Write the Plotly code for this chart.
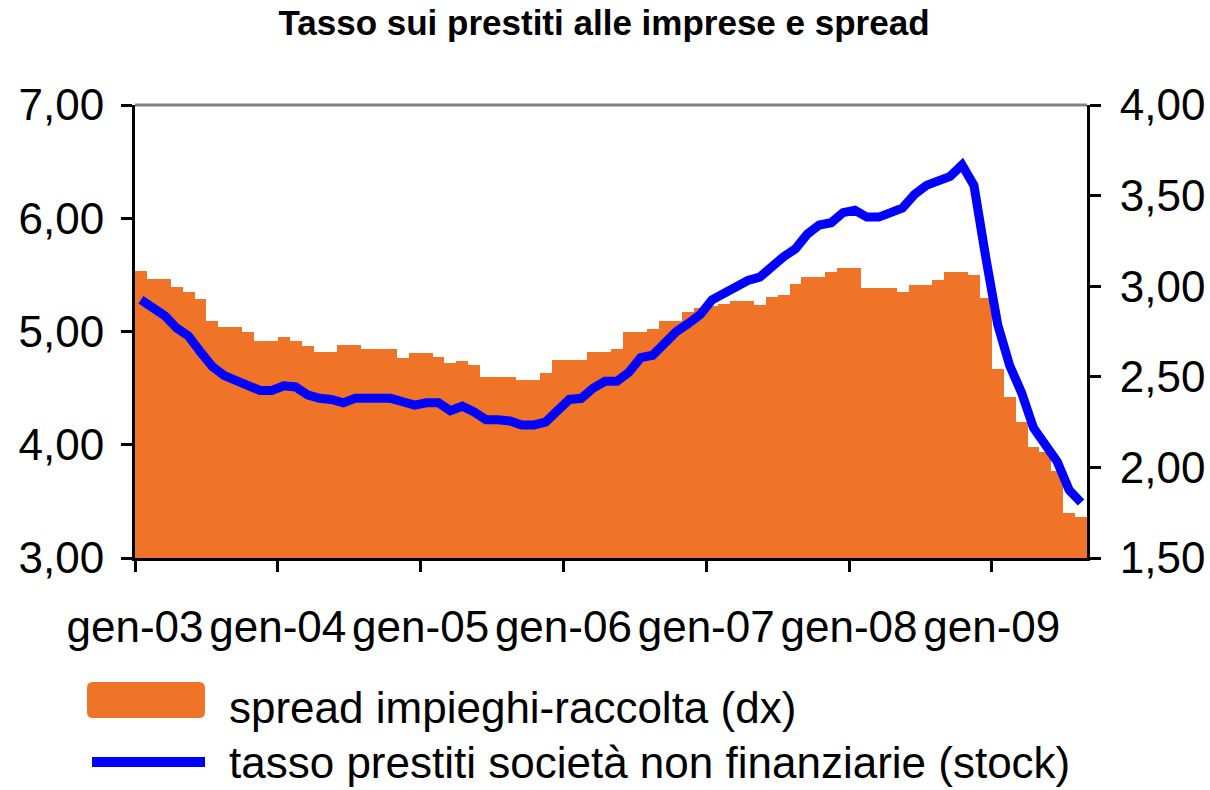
import plotly.graph_objects as go

# ---- data ----
tick_labels = ["gen-03", "gen-04", "gen-05", "gen-06", "gen-07", "gen-08", "gen-09"]
n_months = 80  # gen-03 .. ago-09

spread = [3.086, 3.04, 3.04, 2.997, 2.97, 2.93, 2.81, 2.775, 2.775, 2.75,
          2.70, 2.70, 2.72, 2.70, 2.67, 2.635, 2.635, 2.675, 2.675, 2.655,
          2.655, 2.655, 2.605, 2.63, 2.63, 2.61, 2.575, 2.585, 2.565, 2.50,
          2.50, 2.50, 2.48, 2.48, 2.52, 2.59, 2.59, 2.59, 2.635, 2.635,
          2.655, 2.745, 2.745, 2.765, 2.81, 2.81, 2.855, 2.88, 2.89, 2.90,
          2.92, 2.92, 2.895, 2.94, 2.95, 3.01, 3.05, 3.05, 3.08, 3.10,
          3.10, 2.99, 2.99, 2.99, 2.97, 3.005, 3.005, 3.035, 3.08, 3.08,
          3.06, 2.935, 2.545, 2.39, 2.25, 2.115, 2.085, 1.98, 1.75, 1.725]

tasso = [5.28, 5.21, 5.14, 5.03, 4.96, 4.82, 4.69, 4.61, 4.57, 4.52,
         4.48, 4.48, 4.52, 4.51, 4.44, 4.41, 4.40, 4.37, 4.41, 4.41,
         4.41, 4.41, 4.38, 4.35, 4.37, 4.37, 4.30, 4.34, 4.29, 4.22,
         4.22, 4.21, 4.175, 4.175, 4.20, 4.31, 4.40, 4.41, 4.50, 4.56,
         4.56, 4.64, 4.77, 4.79, 4.90, 5.00, 5.07, 5.15, 5.28, 5.34,
         5.38, 5.45, 5.48, 5.58, 5.66, 5.73, 5.86, 5.94, 5.96, 6.05,
         6.07, 6.01, 6.01, 6.05, 6.09, 6.21, 6.29, 6.33, 6.37, 6.47,
         6.29, 5.65, 5.06, 4.70, 4.46, 4.15, 4.01, 3.85, 3.60, 3.49]

left_ticks = [3, 4, 5, 6, 7]
right_ticks = [1.5, 2.0, 2.5, 3.0, 3.5, 4.0]

name_spread = "spread impieghi-raccolta (dx)"
name_tasso = "tasso prestiti società non finanziarie (stock)"
title = "Tasso sui prestiti alle imprese e spread"

ORANGE = "#F07428"
BLUE = "#0000FF"
FONT = "Liberation Sans, Arial, sans-serif"

xpos = [i + 0.5 for i in range(n_months)]
tickvals = [12 * k for k in range(len(tick_labels))]

# body margin is set to 0 below, so the figure fills the window exactly
FIG_W, FIG_H = 1210, 790
PL, PR, PT, PB = 135, 1087, 105, 558   # plot area in window pixels

fig = go.Figure()
fig.add_trace(go.Bar(x=xpos, y=spread, yaxis="y", name=name_spread,
                     width=1.0, marker=dict(color=ORANGE, line=dict(width=0))))
fig.add_trace(go.Scatter(x=xpos, y=tasso, yaxis="y2", name=name_tasso, mode="lines",
                         line=dict(color=BLUE, width=9)))

axis_common = dict(showgrid=False, zeroline=False, showline=True, linecolor="black",
                   linewidth=3, ticks="outside", ticklen=11, tickwidth=3, automargin=False,
                   tickcolor="black", tickfont=dict(size=44, color="black", family=FONT))

fig.update_layout(
    width=FIG_W, height=FIG_H, autosize=False,
    margin=dict(l=PL, r=FIG_W - PR, t=PT, b=FIG_H - PB),
    paper_bgcolor="white", plot_bgcolor="white",
    separators=",.",
    font=dict(family=FONT, size=44, color="black"),
    showlegend=False,
    bargap=0,
    title=dict(text="<b>" + title + "</b>", x=604 / FIG_W, xref="container",
               xanchor="center", y=1 - 23 / FIG_H, yref="container",
               yanchor="middle", automargin=False,
               font=dict(size=35, family=FONT, color="black")),
    xaxis=dict(range=[0, n_months], tickvals=tickvals, ticktext=tick_labels,
               ticklabelstandoff=17, **axis_common),
    yaxis=dict(side="right", range=[1.5, 4.0], tickvals=right_ticks, tickformat=".2f",
               ticklabelstandoff=10, **axis_common),
    yaxis2=dict(overlaying="y", side="left", range=[3, 7], tickvals=left_ticks,
                tickformat=".2f", ticklabelstandoff=8, **axis_common),
)

# grey top border of plot area
fig.add_shape(type="line", xref="paper", yref="paper", x0=0, x1=1, y0=1, y1=1,
              line=dict(color="#808080", width=3), layer="below")

# manual legend (big swatches like the original)
W, H = float(PR - PL), float(PB - PT)
def px(x):
    return (x - PL) / W
def py(y):
    return (PB - y) / H

x0, x1, y0, y1, r = 87, 205, 682, 718, 6
path = (f"M {px(x0 + r)},{py(y0)} L {px(x1 - r)},{py(y0)} "
        f"Q {px(x1)},{py(y0)} {px(x1)},{py(y0 + r)} L {px(x1)},{py(y1 - r)} "
        f"Q {px(x1)},{py(y1)} {px(x1 - r)},{py(y1)} L {px(x0 + r)},{py(y1)} "
        f"Q {px(x0)},{py(y1)} {px(x0)},{py(y1 - r)} L {px(x0)},{py(y0 + r)} "
        f"Q {px(x0)},{py(y0)} {px(x0 + r)},{py(y0)} Z")
fig.add_shape(type="path", xref="paper", yref="paper", path=path,
              fillcolor=ORANGE, line=dict(width=0))
fig.add_shape(type="line", xref="paper", yref="paper", x0=px(92), x1=px(205),
              y0=py(762), y1=py(762), line=dict(color=BLUE, width=10))
fig.add_annotation(x=px(228), y=py(707), xref="paper", yref="paper", text=name_spread,
                   showarrow=False, xanchor="left", yanchor="middle", borderpad=0,
                   font=dict(size=44, family=FONT, color="black"))
fig.add_annotation(x=px(228), y=py(763), xref="paper", yref="paper", text=name_tasso,
                   showarrow=False, xanchor="left", yanchor="middle", borderpad=0,
                   font=dict(size=44, family=FONT, color="black"))

fig.write_html("out.html", config={"displayModeBar": False},
               post_script="document.body.style.margin='0px';document.body.style.overflow='hidden';")
